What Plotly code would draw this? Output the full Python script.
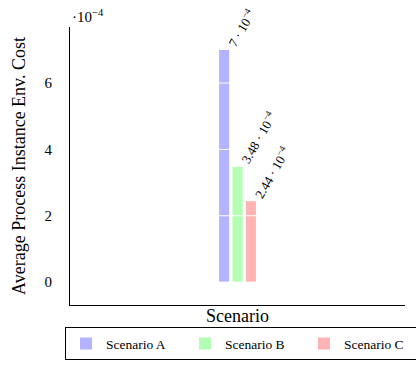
import plotly.graph_objects as go

scenarios = ["Scenario A", "Scenario B", "Scenario C"]
costs = [7e-4, 3.48e-4, 2.44e-4]
colors = ["#B3B3FF", "#B3FFB3", "#FFB3B3"]
labels = ["7 · 10<sup>−4</sup>", "3.48 · 10<sup>−4</sup>", "2.44 · 10<sup>−4</sup>"]
ytick_vals = [0, 2, 4, 6]
scale = 1e4
FONT = "Liberation Serif"

fig = go.Figure()
for name, c, col in zip(scenarios, costs, colors):
    fig.add_trace(go.Bar(x=["Scenario"], y=[c * scale], name=name,
                         marker=dict(color=col, line=dict(width=0))))

# rotated value labels above bars
for i, (c, lab) in enumerate(zip(costs, labels)):
    fig.add_annotation(x="Scenario", y=c * scale, text=lab, textangle=-60,
                       showarrow=False, xanchor="left", yanchor="bottom",
                       xshift=(i - 1) * 13.3 - 3, yshift=-2,
                       font=dict(family=FONT, size=13, color="black"))

# white grid lines drawn over the bars
for v in ytick_vals:
    fig.add_shape(type="line", xref="paper", x0=0.005, x1=1, yref="y", y0=v, y1=v,
                  line=dict(color="white", width=1), layer="above")

# axis multiplier
fig.add_annotation(xref="paper", yref="paper", x=0.0, y=1.0, xanchor="left", yanchor="bottom",
                   text="·10<sup>−4</sup>", showarrow=False, yshift=0,
                   font=dict(family=FONT, size=15, color="black"))

fig.update_layout(
    width=416, height=367,
    margin=dict(l=70, r=11, t=27, b=62, autoexpand=False),
    plot_bgcolor="white", paper_bgcolor="white",
    barmode="group", bargap=0.88, bargroupgap=0.25,
    font=dict(family=FONT, size=15, color="black"),
    showlegend=True,
    legend=dict(orientation="h", x=-0.015, xanchor="left", y=-0.08, yanchor="top",
                bordercolor="black", borderwidth=1, entrywidth=74,
                tracegroupgap=0, itemwidth=30, valign="middle",
                font=dict(family=FONT, size=13.5)),
    xaxis=dict(showticklabels=False, showline=True, linecolor="black", linewidth=1,
               showgrid=False, ticks="", title=dict(text="Scenario", standoff=4)),
    yaxis=dict(range=[-0.69, 7.69], tickvals=ytick_vals, showline=True, linecolor="black",
               linewidth=1, showgrid=False, zeroline=False, ticks="", ticklabelstandoff=14,
               title=dict(text="Average Process Instance Env. Cost", standoff=14)),
)

fig.write_html("out.html", config={"displayModeBar": False},
               post_script="document.body.style.margin='0';document.body.style.overflow='hidden';")
